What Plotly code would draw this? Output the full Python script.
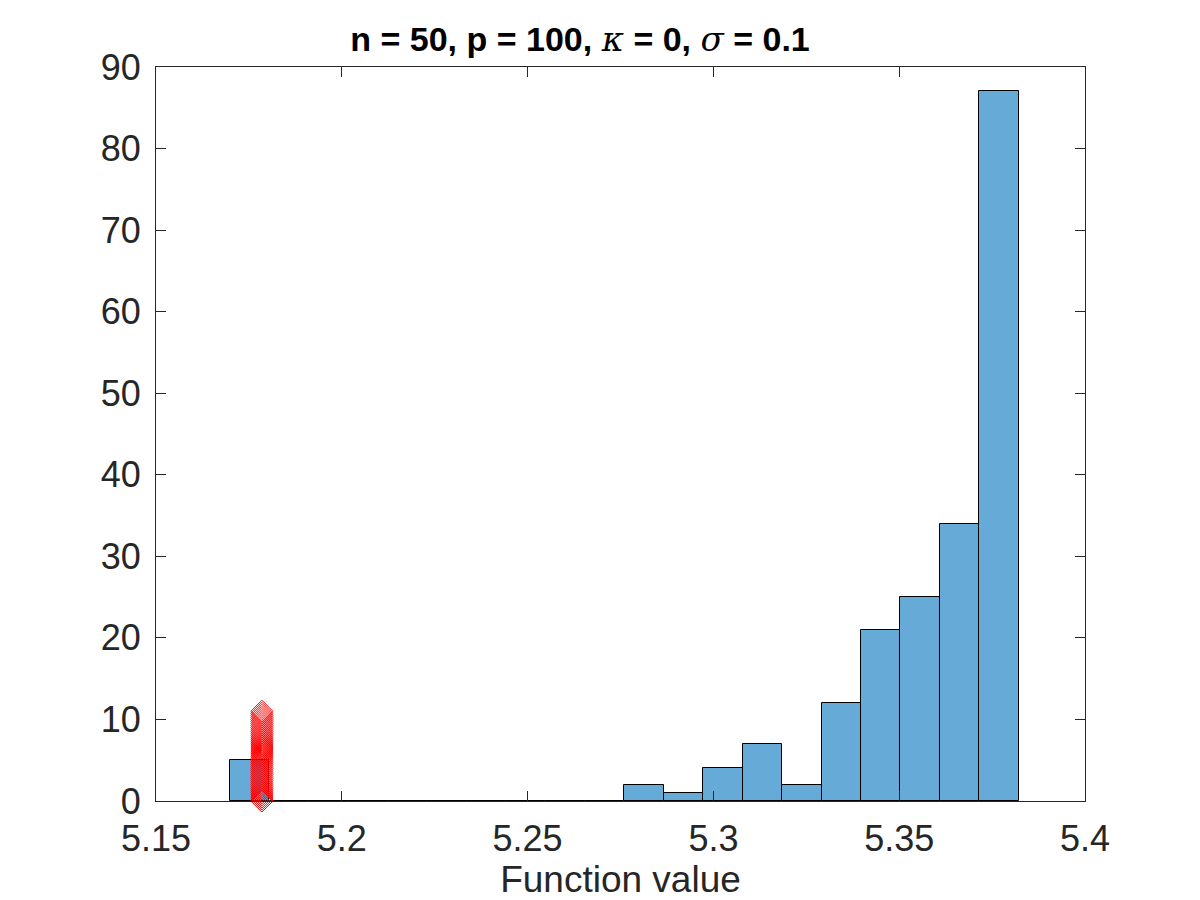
import plotly.graph_objects as go

# Histogram data (bin edges start, bin width, counts)
bin_start = 5.1699
bin_width = 0.010614
counts = [5, 0, 0, 0, 0, 0, 0, 0, 0, 0, 2, 1, 4, 7, 2, 12, 21, 25, 34, 87]

# Red diamond markers (minimum value marker column)
marker_x = 5.1785
marker_y = [0.0, 0.25, 0.5, 0.75, 1.0, 1.25, 1.5, 1.75, 2.0, 2.25, 2.5, 2.75, 3.0, 3.25,
            3.5, 3.75, 4.0, 4.25, 4.5, 4.75, 5.0, 5.25, 5.5, 5.75, 6.0, 6.25, 6.5, 6.75,
            7.0, 7.25, 7.5, 7.75, 8.0, 8.25, 8.5, 8.75, 9.0, 9.25, 9.5, 9.75, 10.0, 10.25,
            10.5, 10.75, 11.0]

x_ticks = [5.15, 5.2, 5.25, 5.3, 5.35, 5.4]
x_ticklabels = ["5.15", "5.2", "5.25", "5.3", "5.35", "5.4"]
y_ticks = [0, 10, 20, 30, 40, 50, 60, 70, 80, 90]

centers = [bin_start + bin_width * (i + 0.5) for i in range(len(counts))]

FONT = "Liberation Sans, Arial, Helvetica, sans-serif"

fig = go.Figure()
fig.add_trace(go.Bar(
    x=centers, y=counts, width=[bin_width] * len(counts),
    marker=dict(color="#66AAD7", line=dict(color="black", width=1)),
    showlegend=False,
))
fig.add_trace(go.Scatter(
    x=[marker_x] * len(marker_y), y=marker_y, mode="markers",
    marker=dict(symbol="diamond-open", size=17, color="red", line=dict(color="red", width=1)),
    showlegend=False, cliponaxis=False,
))

axis_common = dict(
    showline=True, linecolor="#262626", linewidth=1, mirror="ticks",
    ticks="inside", ticklen=10, tickcolor="#262626", showgrid=False, zeroline=False,
    tickfont=dict(family=FONT, size=36, color="#262626"),
)

# page body has an 8px margin, so plot area 156..1085 x 67..801 on screen
fig.update_layout(
    width=1200, height=900,
    paper_bgcolor="white", plot_bgcolor="white",
    margin=dict(l=148, r=123, t=59, b=107),
    bargap=0,
    title=dict(
        text="<b>n = 50, p = 100, </b><i><span style='font-family:DejaVu Serif'>κ</span></i><b> = 0, </b><i><span style='font-family:DejaVu Serif'>σ</span></i><b> = 0.1</b>",
        x=572 / 1200, xanchor="center", y=1 - 31 / 900, yanchor="middle",
        font=dict(family=FONT, size=34, color="black"),
    ),
    xaxis=dict(range=[5.15, 5.4], tickvals=x_ticks, ticktext=x_ticklabels,
               ticklabelstandoff=6,
               title=dict(text="Function value", standoff=0,
                          font=dict(family=FONT, size=37, color="#262626")),
               **axis_common),
    yaxis=dict(range=[0, 90], tickvals=y_ticks, ticklabelstandoff=7, **axis_common),
)

fig.write_html("out.html")
